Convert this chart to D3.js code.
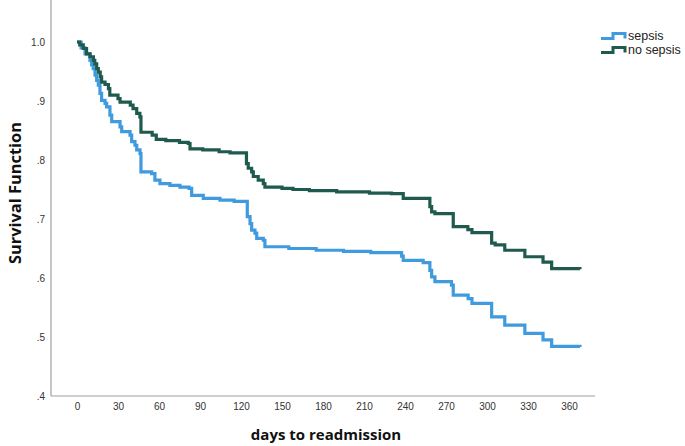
<!DOCTYPE html>
<html>
<head>
<meta charset="utf-8">
<script src="https://cdn.jsdelivr.net/npm/d3@7"></script>
<style>
  html, body { margin: 0; padding: 0; background: #fff; }
  svg { display: block; }
</style>
</head>
<body>
<svg id="chart" width="685" height="446"></svg>
<script>
// ---- data ----
const seriesNames = ["sepsis", "no sepsis"];
const seriesColors = ["#3f9ade", "#1f5a4e"];

const sepsisDays = [0, 3, 5.9, 9.5, 10.7, 11.9, 13.2, 14.4, 15.6, 16.8, 18, 20.5, 21.7, 24.1, 25.4, 31.5, 32.7, 38.8, 40, 42.4, 43.7, 46.1, 46.8, 54.6, 57, 60.7, 68, 75.3, 82, 83.9, 92.4, 104.6, 115, 124.6, 126.6, 127.8, 130.2, 131.5, 136.3, 137.5, 155, 175, 195, 215, 237.5, 238.7, 253.3, 258.2, 259.5, 261.9, 274, 275.3, 286.2, 289, 303.4, 313, 327.7, 341, 347.3, 368];
const sepsisSurv = [1.0, 0.99, 0.980, 0.969, 0.961, 0.955, 0.944, 0.935, 0.927, 0.913, 0.901, 0.896, 0.890, 0.876, 0.865, 0.856, 0.848, 0.842, 0.831, 0.825, 0.817, 0.811, 0.780, 0.777, 0.766, 0.760, 0.757, 0.754, 0.752, 0.740, 0.735, 0.732, 0.730, 0.704, 0.692, 0.681, 0.676, 0.667, 0.664, 0.653, 0.650, 0.647, 0.645, 0.643, 0.637, 0.630, 0.626, 0.613, 0.602, 0.594, 0.588, 0.571, 0.565, 0.557, 0.534, 0.520, 0.506, 0.495, 0.484, 0.483];

const noSepsisDays = [0, 2, 4.6, 7, 9.5, 12, 13, 14.4, 15.6, 17, 18, 20.5, 23, 24, 30, 31.5, 39, 41, 43.7, 46, 46.8, 55, 58, 65, 75, 81.4, 82.7, 92, 104, 112, 124, 125.3, 127.8, 129, 132.6, 136.3, 137.5, 150, 158, 170, 190, 214, 230, 238.7, 258.2, 259.5, 261.9, 275.3, 286, 289, 303.4, 306, 313, 327.7, 341, 347.3, 368];
const noSepsisSurv = [1.0, 0.995, 0.989, 0.980, 0.975, 0.969, 0.963, 0.955, 0.949, 0.941, 0.932, 0.928, 0.921, 0.910, 0.904, 0.898, 0.893, 0.887, 0.879, 0.873, 0.847, 0.842, 0.835, 0.833, 0.830, 0.828, 0.819, 0.817, 0.814, 0.812, 0.794, 0.786, 0.780, 0.772, 0.766, 0.760, 0.754, 0.752, 0.750, 0.748, 0.746, 0.744, 0.743, 0.735, 0.721, 0.712, 0.709, 0.687, 0.682, 0.677, 0.659, 0.656, 0.647, 0.636, 0.627, 0.616, 0.615];

const xTicks = [0, 30, 60, 90, 120, 150, 180, 210, 240, 270, 300, 330, 360];
const yTicks = [0.4, 0.5, 0.6, 0.7, 0.8, 0.9, 1.0];
const yTickLabels = [".4", ".5", ".6", ".7", ".8", ".9", "1.0"];

const xTitle = "days to readmission";
const yTitle = "Survival Function";

// ---- chart ----
const svg = d3.select("#chart");
const x = d3.scaleLinear().domain([0, 360]).range([77, 569]);
const y = d3.scaleLinear().domain([0.4, 1.0]).range([396, 42]);

const axisColor = "#a0a0a0";
const font = "'Liberation Sans', Arial, sans-serif";

const yAxis = d3.axisLeft(y).tickValues(yTicks).tickSize(0).tickPadding(6)
  .tickFormat((d, i) => yTickLabels[i]);
const gy = svg.append("g").attr("transform", "translate(51,0)").call(yAxis);
gy.select(".domain").remove();
gy.selectAll("text").attr("font-family", font).attr("font-size", 10).attr("fill", "#333");

const xAxis = d3.axisBottom(x).tickValues(xTicks).tickSize(0).tickPadding(7)
  .tickFormat(d3.format("d"));
const gx = svg.append("g").attr("transform", "translate(0,396)").call(xAxis);
gx.select(".domain").remove();
gx.selectAll("text").attr("font-family", font).attr("font-size", 10).attr("fill", "#333");

svg.append("line").attr("x1", 51).attr("x2", 51).attr("y1", 0).attr("y2", 396)
  .attr("stroke", axisColor).attr("stroke-width", 1.2);
svg.append("line").attr("x1", 51).attr("x2", 595).attr("y1", 396).attr("y2", 396)
  .attr("stroke", axisColor).attr("stroke-width", 1.2);

// curves
const line = d3.line().x(d => x(d[0])).y(d => y(d[1])).curve(d3.curveStepAfter);
const series = [
  d3.zip(sepsisDays, sepsisSurv),
  d3.zip(noSepsisDays, noSepsisSurv)
];
series.forEach((pts, i) => {
  svg.append("path").datum(pts).attr("d", line)
    .attr("fill", "none").attr("stroke", seriesColors[i])
    .attr("stroke-width", 3.2).attr("stroke-linejoin", "miter");
});

// axis titles
svg.append("text").attr("x", 326).attr("y", 440).attr("text-anchor", "middle")
  .attr("font-family", "'Open Sans', sans-serif").attr("font-weight", "bold")
  .attr("font-size", 15).attr("fill", "#111").text(xTitle);
svg.append("text").attr("transform", "translate(14,193) rotate(-90)")
  .attr("text-anchor", "middle").attr("dominant-baseline", "central")
  .attr("font-family", "'Open Sans', sans-serif").attr("font-weight", "bold")
  .attr("font-size", 16.4).attr("fill", "#111").text(yTitle);

// legend
const legend = svg.append("g");
seriesNames.forEach((name, i) => {
  const ly = 36 + i * 14;
  legend.append("path")
    .attr("d", `M601,${ly + 2.5} H613 V${ly - 2.5} H625 V${ly + 2.5}`)
    .attr("fill", "none").attr("stroke", seriesColors[i]).attr("stroke-width", 3);
  legend.append("text").attr("x", 628).attr("y", ly).attr("dominant-baseline", "central")
    .attr("font-family", font).attr("font-size", 12.5).attr("fill", "#222").text(name);
});
</script>
</body>
</html>
